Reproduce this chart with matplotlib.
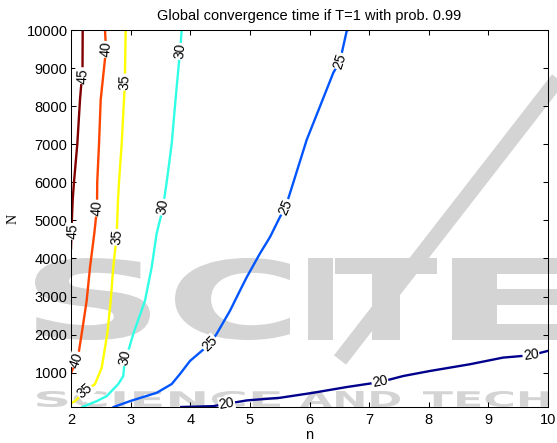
#!/usr/bin/env python3
"""Contour lines of global convergence time (n vs N)."""

import numpy as np
import matplotlib
matplotlib.use("Agg")
import matplotlib.pyplot as plt
from matplotlib.textpath import TextPath
from matplotlib.font_manager import FontProperties
from matplotlib.patches import PathPatch
from matplotlib.transforms import Affine2D
from matplotlib.lines import Line2D

plt.rcParams["font.family"] = ["Liberation Sans", "DejaVu Sans"]

# contour levels and the traced lines (n, N)
levels = [20, 25, 30, 35, 40, 45]

n_20 = [3.85, 4.381, 4.611, 4.947, 5.505, 6.059, 6.624, 7.182, 7.573, 8.021, 8.692, 9.245, 9.715, 10.0]
N_20 = [100, 122, 183, 273, 342, 473, 624, 755, 914, 1046, 1223, 1397, 1460, 1574]

n_25 = [2.716, 2.989, 3.437, 3.689, 3.828, 3.996, 4.331, 4.443, 4.667, 4.834, 4.947,
        5.170, 5.338, 5.505, 5.597, 5.673, 5.953, 6.176, 6.399, 6.511, 6.624, 6.646]
N_25 = [100, 254, 473, 703, 967, 1310, 1758, 2022, 2629, 3157, 3508,
        4134, 4564, 5092, 5347, 5717, 7116, 7994, 8876, 9182, 9974, 10000]

n_30 = [3.857, 3.828, 3.753, 3.689, 3.605, 3.543, 3.521, 3.437, 3.353, 3.241, 3.045,
        2.961, 2.906, 2.877, 2.793, 2.599, 2.431, 2.19]
N_30 = [10000, 9438, 8171, 7010, 6007, 5347, 5189, 4661, 3772, 2893, 2022,
        1574, 1397, 914, 703, 386, 254, 100]

n_35 = [2.917, 2.906, 2.906, 2.889, 2.850, 2.805, 2.788, 2.766, 2.709, 2.666, 2.609,
        2.515, 2.403, 2.235, 2.067, 2.0]
N_35 = [10000, 8963, 8633, 8171, 7010, 6007, 5532, 4600, 3772, 2893, 2022,
        1133, 703, 513, 254, 200]

n_40 = [2.570, 2.587, 2.498, 2.470, 2.440, 2.436, 2.391, 2.319, 2.263, 2.179, 2.134, 2.095, 2.0]
N_40 = [10000, 9490, 8171, 7010, 6007, 5321, 4661, 3772, 2893, 2022, 1574, 1336, 993]

n_45 = [2.196, 2.193, 2.151, 2.106, 2.050, 2.028, 2.017, 2.0]
N_45 = [10000, 8963, 8171, 7010, 6007, 5532, 5110, 4265]

lines = {20: (n_20, N_20), 25: (n_25, N_25), 30: (n_30, N_30),
         35: (n_35, N_35), 40: (n_40, N_40), 45: (n_45, N_45)}

# inline label positions (n, N)
label_pos = {
    20: [(4.611, 183), (7.182, 755), (9.715, 1460)],
    25: [(4.331, 1758), (5.597, 5347), (6.511, 9182)],
    30: [(3.828, 9438), (3.543, 5347), (2.906, 1397)],
    35: [(2.906, 8633), (2.766, 4556), (2.235, 513)],
    40: [(2.587, 9490), (2.440, 5321), (2.095, 1336)],
    45: [(2.196, 8800), (2.028, 4713)],
}

xticks = list(range(2, 11))
yticks = list(range(1000, 10001, 1000))

# MATLAB-style jet colours of the contour levels
level_colors = {20: "#00008c", 25: "#0055ff", 30: "#30ffe6",
                35: "#ffff00", 40: "#ff4400", 45: "#800000"}

W, H = 557, 443
WM = "#d4d4d4"

fig = plt.figure(figsize=(W / 100, H / 100), dpi=100, facecolor="white")
ax = fig.add_axes([71 / W, 1 - 407 / H, (548 - 71) / W, (407 - 30) / H])
ax.patch.set_visible(False)


def px():
    return Affine2D().scale(1 / W, 1 / H) + fig.transFigure


def wm_word(s, x0, x1, ytop, ybot):
    tp = TextPath((0, 0), s, size=100,
                  prop=FontProperties(family="DejaVu Sans", weight="bold"))
    bb = tp.get_extents()
    tr = (Affine2D().translate(-bb.x0, -bb.y0)
          .scale((x1 - x0) / bb.width, (ybot - ytop) / bb.height)
          .translate(x0, H - ybot) + px())
    fig.add_artist(PathPatch(tp, transform=tr, fc=WM, ec="none", zorder=-5))


# publisher watermark behind the plot
for ch, a, b in [("S", 35, 150), ("C", 175, 290), ("I", 308, 333),
                 ("T", 335, 437), ("E", 452, 575)]:
    wm_word(ch, a, b, 258, 340)
for word, a, b in [("SCIENCE", 37, 280), ("AND", 300, 400), ("TECHNOLOGY", 423, 760)]:
    wm_word(word, a, b, 391, 407)
fig.add_artist(Line2D([565, 340], [H - 70, H - 360], transform=px(), color=WM,
                      lw=11, solid_capstyle="butt", zorder=-5))

ax.set_xlim(2, 10)
ax.set_ylim(100, 10000)


def label_angle(ns, Ns, n0, N0):
    pts = ax.transData.transform(np.column_stack([ns, Ns]))
    p0 = ax.transData.transform((n0, N0))
    i = int(np.argmin(np.hypot(*(pts - p0).T)))
    a, b = pts[max(i - 1, 0)], pts[min(i + 1, len(pts) - 1)]
    ang = np.degrees(np.arctan2(b[1] - a[1], b[0] - a[0]))
    if ang > 90:
        ang -= 180
    elif ang <= -90:
        ang += 180
    return ang


for lev in levels:
    ns, Ns = lines[lev]
    ax.plot(ns, Ns, color=level_colors[lev], lw=1.7, zorder=2,
            solid_joinstyle="round")
    for n0, N0 in label_pos[lev]:
        ax.text(n0, N0, str(lev), rotation=label_angle(ns, Ns, n0, N0),
                rotation_mode="anchor", ha="center", va="center", fontsize=10,
                zorder=3, bbox=dict(boxstyle="square,pad=0.05", fc="white", ec="none"))

ax.set_xticks(xticks)
ax.set_yticks(yticks)
ax.tick_params(direction="in", top=True, right=True, length=3.6, width=0.75,
               labelsize=10.5)
ax.tick_params(axis="x", pad=4)
ax.tick_params(axis="y", pad=2.5)
for sp in ax.spines.values():
    sp.set_linewidth(0.75)

ax.set_title("Global convergence time if T=1 with prob. 0.99", fontsize=10.5, pad=7)
ax.set_xlabel("n", fontsize=10.5, labelpad=1)
ax.set_ylabel("N", fontsize=10, labelpad=5, family=["Liberation Serif", "DejaVu Serif"])

fig.savefig("out.png", dpi=100)
